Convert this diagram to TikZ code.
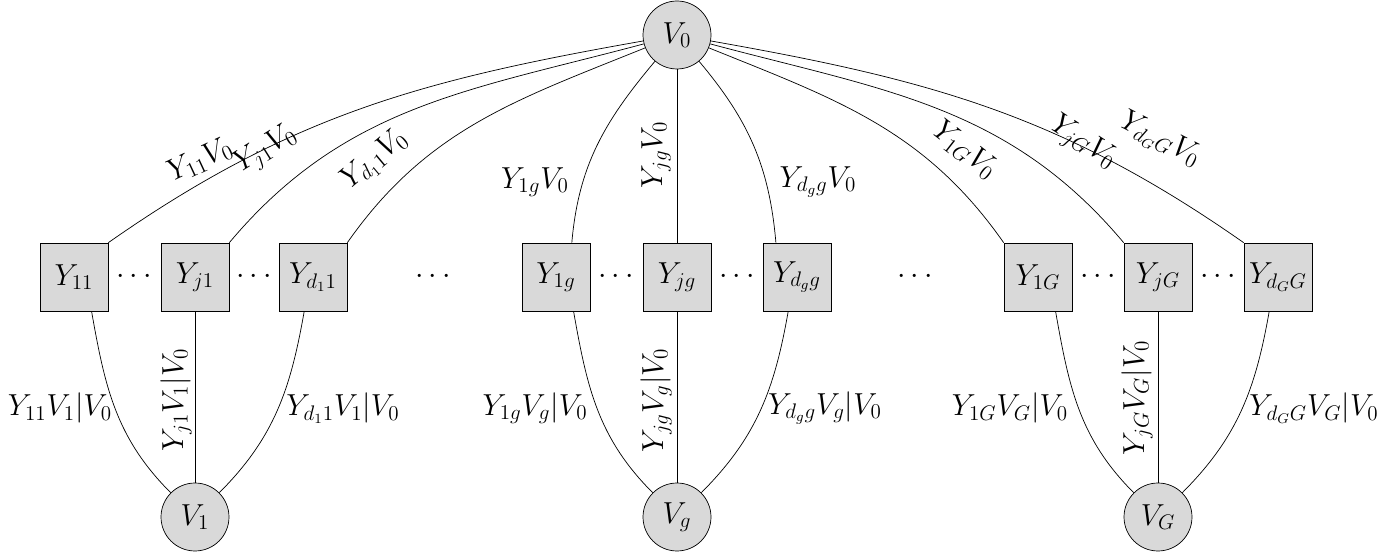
\documentclass[tikz,border=0pt]{standalone}
\begin{document}
\begin{tikzpicture}[x=0.02cm,y=-0.02cm,
 vn/.style={circle,draw,fill=gray!30,minimum size=1.36cm,inner sep=0pt},
 sn/.style={rectangle,draw,fill=gray!30,minimum size=1.36cm,inner sep=0pt},
 lb/.style={inner sep=0pt},
 every node/.append style={font=\fontsize{17}{20}\selectfont}]
\useasboundingbox (0,0) rectangle (1380,553);
\node[vn] (V0) at (677,35) {$V_0$};
\node[vn] (V1) at (195,517) {$V_1$};
\node[vn] (Vg) at (677,517) {$V_g$};
\node[vn] (VG) at (1158,517) {$V_G$};
\node[sn] (Y11) at (74,277) {$Y_{11}$};
\node[sn] (Yj1) at (195,277) {$Y_{j1}$};
\node[sn] (Yd1) at (313,277) {$Y_{d_11}$};
\node[sn] (Y1g) at (556,277) {$Y_{1g}$};
\node[sn] (Yjg) at (677,277) {$Y_{jg}$};
\node[sn] (Ydg) at (797,277) {$Y_{d_gg}$};
\node[sn] (Y1G) at (1038,277) {$Y_{1G}$};
\node[sn] (YjG) at (1158,277) {$Y_{jG}$};
\node[sn] (YdG) at (1278,277) {$Y_{d_GG}$};
\foreach \x/\n in {134/a,254/b,433/c,616/d,737/e,915/f,1098/g,1218/h}
  \node (dots\n) at (\x,277) {$\cdots$};
% top edges
\draw (Y11.north east) to[out=35,in=190] (V0);
\draw (Yj1.north east) to[out=50,in=195] (V0);
\draw (Yd1.north east) to[out=55,in=202] (V0);
\draw ([xshift=9]Y1g.north) to[out=85,in=230] (V0);
\draw (Yjg) -- (V0);
\draw ([xshift=-12]Ydg.north) to[out=95,in=-50] (V0);
\draw (Y1G.north west) to[out=125,in=-22] (V0);
\draw (YjG.north west) to[out=130,in=-15] (V0);
\draw (YdG.north west) to[out=145,in=-10] (V0);
% bottom edges
\draw ([xshift=10]Y11.south) to[out=-80,in=135] (V1);
\draw (Yj1) -- (V1);
\draw ([xshift=-5]Yd1.south) to[out=-100,in=45] (V1);
\draw ([xshift=10]Y1g.south) to[out=-80,in=135] (Vg);
\draw (Yjg) -- (Vg);
\draw ([xshift=-5]Ydg.south) to[out=-100,in=45] (Vg);
\draw ([xshift=10]Y1G.south) to[out=-80,in=135] (VG);
\draw (YjG) -- (VG);
\draw ([xshift=-5]YdG.south) to[out=-100,in=45] (VG);
% top labels
\node[lb,rotate=25] (l1) at (200,160) {$Y_{11}V_0$};
\node[lb,rotate=32] (l2) at (266,150) {$Y_{j1}V_0$};
\node[lb,rotate=40] (l3) at (375,160) {$Y_{d_1 1}V_0$};
\node[lb] (l4) at (535,182) {$Y_{1g}V_0$};
\node[lb,rotate=90] (l5) at (656,155) {$Y_{jg}V_0$};
\node[lb] (l6) at (818,182) {$Y_{d_gg}V_0$};
\node[lb,rotate=-38] (l7) at (965,150) {$Y_{1G}V_0$};
\node[lb,rotate=-33] (l8) at (1083,143) {$Y_{jG}V_0$};
\node[lb,rotate=-27] (l9) at (1160,140) {$Y_{d_GG}V_0$};
% bottom labels
\node[lb] (m1) at (60,408) {$Y_{11}V_1|V_0$};
\node[lb,rotate=90] (m2) at (176,400) {$Y_{j1}V_1|V_0$};
\node[lb] (m3) at (343,408) {$Y_{d_11}V_1|V_0$};
\node[lb] (m4) at (535,408) {$Y_{1g}V_g|V_0$};
\node[lb,rotate=90] (m5) at (656,400) {$Y_{jg}V_g|V_0$};
\node[lb] (m6) at (825,408) {$Y_{d_gg}V_g|V_0$};
\node[lb] (m7) at (1010,408) {$Y_{1G}V_G|V_0$};
\node[lb,rotate=90] (m8) at (1137,398) {$Y_{jG}V_G|V_0$};
\node[lb] (m9) at (1314,408) {$Y_{d_GG}V_G|V_0$};
\end{tikzpicture}
\end{document}
